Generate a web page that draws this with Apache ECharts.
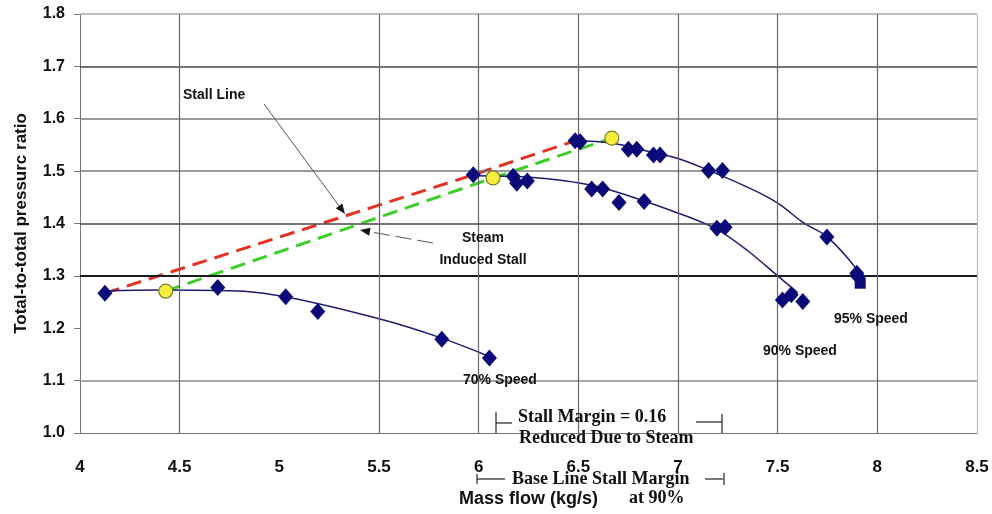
<!DOCTYPE html>
<html><head><meta charset="utf-8">
<script src="https://cdn.jsdelivr.net/npm/echarts@6/dist/echarts.min.js"></script>
<style>html,body{margin:0;padding:0;background:#fff}#c{width:992px;height:514px}</style>
</head><body><div id="c"></div>
<script>
// ---------- data ----------
const xMin = 4, xMax = 8.5, xStep = 0.5;
const yMin = 1.0, yMax = 1.8, yStep = 0.1;
const speed70 = [[4.125,1.267],[4.691,1.278],[5.032,1.260],[5.193,1.232],[5.815,1.179],[6.054,1.143]];
const speed90 = [[5.973,1.493],[6.173,1.490],[6.191,1.477],[6.244,1.481],[6.567,1.466],[6.622,1.466],[6.704,1.440],[6.830,1.442],[7.195,1.391],[7.236,1.393],[7.524,1.254],[7.568,1.264],[7.626,1.251]];
const speed95 = [[6.484,1.558],[6.509,1.556],[6.751,1.542],[6.793,1.542],[6.877,1.531],[6.910,1.531],[7.153,1.501],[7.223,1.501],[7.747,1.374],[7.897,1.305],[7.905,1.298]];
const speed95Last = [[7.914,1.286]];
const steamStall = [[4.43,1.271],[6.072,1.487],[6.668,1.563]];
const stallLine = [[4.125,1.267],[5.973,1.493],[6.484,1.558]];
const trend70 = [[4.125,1.271],[4.4,1.273],[4.7,1.272],[5.0,1.262],[5.5,1.218],[5.8,1.183],[6.054,1.146]];
const trend90 = [[5.973,1.491],[6.3,1.487],[6.6,1.470],[7.0,1.420],[7.2,1.388],[7.35,1.348],[7.5,1.300],[7.6,1.268]];
const trend95 = [[6.484,1.558],[6.67,1.553],[6.88,1.535],[7.0,1.524],[7.15,1.502],[7.345,1.470],[7.5,1.439],[7.63,1.401],[7.75,1.374],[7.9,1.311]];
const hGrid = [1.1,1.3,1.4,1.5,1.6,1.7,1.8];
const vGrid = [4.5,5.5,6,6.5,7,7.5,8,8.5];
const yTitle = 'Total-to-total pressurc ratio';
const xTitle = 'Mass flow (kg/s)';

// ---------- styles ----------
const hGridColor = {1.1:'#8a8a8a',1.3:'#1a1a1a',1.4:'#444',1.5:'#7a7a7a',1.6:'#7a7a7a',1.7:'#444',1.8:'#aaa'};
const navy = '#0a0a78';
const sansB = 'bold 14px "Liberation Sans", Arial, sans-serif';
const serifB = 'bold 18px "Liberation Serif", "Times New Roman", serif';

const chart = echarts.init(document.getElementById('c'), null, {renderer:'canvas'});

function arrow(x1,y1,x2,y2,dash){
  const a = Math.atan2(y2-y1,x2-x1), L=10, W=4;
  const bx = x2 - L*Math.cos(a), by = y2 - L*Math.sin(a);
  const px = -Math.sin(a)*W, py = Math.cos(a)*W;
  return [
    {type:'line',shape:{x1:x1,y1:y1,x2:bx,y2:by},style:{stroke:'#555',lineWidth:1,lineDash:dash||null},z:20},
    {type:'polygon',shape:{points:[[x2,y2],[bx+px,by+py],[bx-px,by-py]]},style:{fill:'#111'},z:20}
  ];
}
function seg(x1,y1,x2,y2,w){return {type:'line',shape:{x1:x1,y1:y1,x2:x2,y2:y2},style:{stroke:'#222',lineWidth:w||1.2},z:20};}
function txt(x,y,t,font,align){return {type:'text',x:x,y:y,style:{text:t,font:font,fill:'#111',align:align||'left',verticalAlign:'middle'},z:21};}

const graphics = [].concat(
  [txt(183,95,'Stall Line',sansB)],
  arrow(264,104,345,214),
  [txt(483,238,'Steam',sansB,'center'), txt(483,260,'Induced Stall',sansB,'center')],
  arrow(433,243,360,230,[16,6]),
  [txt(463,380,'70% Speed',sansB), txt(763,351,'90% Speed',sansB), txt(834,319,'95% Speed',sansB)],
  [txt(518,417,'Stall Margin = 0.16',serifB), txt(519,438,'Reduced Due to Steam',serifB)],
  [seg(496,412,496,433), seg(496,423,512,423), seg(696,422,722,422), seg(722,414,722,433)],
  [txt(512,479,'Base Line Stall Margin',serifB), txt(629,498,'at 90%',serifB)],
  [seg(477,474,477,484), seg(477,479,505,479), seg(705,479,723,479), seg(724,473,724,485)]
);

const diamondStyle = {color:navy,opacity:1};
const option = {
  animation:false,
  backgroundColor:'#fff',
  grid:{left:80,right:15,top:14,bottom:81,containLabel:false},
  xAxis:{type:'value',min:xMin,max:xMax,interval:xStep,
    name:xTitle,nameLocation:'middle',nameGap:57,
    nameTextStyle:{fontFamily:'Liberation Sans',fontWeight:'bold',fontSize:18,color:'#111'},
    axisLine:{lineStyle:{color:'#777',width:1}},axisTick:{show:false},
    axisLabel:{margin:26,fontFamily:'Liberation Sans',fontWeight:'bold',fontSize:17,color:'#111',
      formatter:v=>String(v)},
    splitLine:{show:false}},
  yAxis:{type:'value',min:yMin,max:yMax,interval:yStep,
    name:yTitle,nameLocation:'middle',nameGap:50,
    nameTextStyle:{fontFamily:'Liberation Sans',fontWeight:'bold',fontSize:17,color:'#111'},
    axisLine:{show:true,lineStyle:{color:'#777',width:1}},
    axisTick:{show:true,length:6,lineStyle:{color:'#777'}},
    axisLabel:{margin:15,fontFamily:'Liberation Sans',fontWeight:'bold',fontSize:16,color:'#111',
      formatter:v=>v.toFixed(1)},
    splitLine:{show:false}},
  graphic:graphics,
  series:[
    {type:'line',data:[],z:1,silent:true,
      markLine:{silent:true,symbol:'none',label:{show:false},animation:false,
        data:hGrid.map(v=>({yAxis:v,lineStyle:{color:hGridColor[v],width:v===1.3?2:1.5,type:'solid'}}))
          .concat(vGrid.map(v=>({xAxis:v,lineStyle:{color:v===8.5?'#bbb':'#666',width:1.2,type:'solid'}})))}},
    {name:'Stall Line',type:'line',data:stallLine,z:3,symbol:'none',
      lineStyle:{color:'#e53024',width:3,type:[15,8]}},
    {name:'Steam Induced Stall',type:'line',data:steamStall,z:3,symbol:'none',
      lineStyle:{color:'#3fcf2a',width:3,type:[15,8]}},
    {type:'line',data:trend70,z:4,symbol:'none',smooth:0.4,lineStyle:{color:'#1c1c70',width:1.5}},
    {type:'line',data:trend90,z:4,symbol:'none',smooth:0.3,lineStyle:{color:'#1c1c70',width:1.5}},
    {type:'line',data:trend95,z:4,symbol:'none',smooth:0.4,lineStyle:{color:'#1c1c70',width:1.5}},
    {name:'70% Speed',type:'scatter',data:speed70,z:5,symbol:'diamond',symbolSize:[15,17],itemStyle:diamondStyle},
    {name:'90% Speed',type:'scatter',data:speed90,z:5,symbol:'diamond',symbolSize:[15,17],itemStyle:diamondStyle},
    {name:'95% Speed',type:'scatter',data:speed95,z:5,symbol:'diamond',symbolSize:[15,17],itemStyle:diamondStyle},
    {type:'scatter',data:speed95Last,z:5,symbol:'rect',symbolSize:11,itemStyle:diamondStyle},
    {type:'scatter',data:steamStall,z:6,symbol:'circle',symbolSize:14,
      itemStyle:{color:'#f4ee3a',borderColor:'#7a7a30',borderWidth:1.2,opacity:1}}
  ]
};
chart.setOption(option);
</script></body></html>
